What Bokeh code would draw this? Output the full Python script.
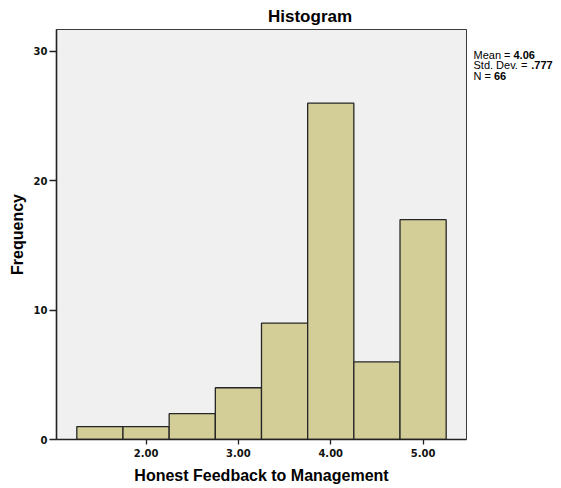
from bokeh.plotting import figure
from bokeh.layouts import row
from bokeh.models import FixedTicker, Range1d, Title
from bokeh.core.properties import value
from bokeh.embed import file_html
from bokeh.resources import INLINE

# ---- data ----
bin_left = [1.25, 1.75, 2.25, 2.75, 3.25, 3.75, 4.25, 4.75]
bin_right = [1.75, 2.25, 2.75, 3.25, 3.75, 4.25, 4.75, 5.25]
counts = [1, 1, 2, 4, 9, 26, 6, 17]
x_ticks = [2, 3, 4, 5]
x_tick_labels = ["2.00", "3.00", "4.00", "5.00"]
y_ticks = [0, 10, 20, 30]
stat_names = ["Mean = ", "Std. Dev. = ", "N = "]
stat_values = ["4.06", ".777", "66"]
title_text = "Histogram"
x_label = "Honest Feedback to Management"
y_label = "Frequency"

# ---- layout ----
X0, X1 = 1.03, 5.47
Y0, Y1 = 0, 31.7
FW, FH = 410, 410
ML, MR, MT, MB = 56, 2, 29, 47
H = MT + FH + MB
W2 = 91

LFONT = "Liberation Sans"
TFONT = "DejaVu Sans"

p = figure(frame_width=FW, frame_height=FH,
           x_range=Range1d(X0, X1), y_range=Range1d(Y0, Y1),
           output_backend="svg", toolbar_location=None,
           min_border_left=ML, min_border_right=MR,
           min_border_top=MT, min_border_bottom=MB)
p.background_fill_color = "#F0F0F0"
p.border_fill_color = "white"
p.outline_line_color = "#3a3a3a"
p.outline_line_width = 1
p.grid.visible = False

title_w = 84
p.title = Title(text=title_text, align="left", offset=309.5 - ML - title_w / 2,
                text_font=LFONT, text_font_style="bold",
                text_font_size="17px", text_color="#000000", standoff=8)

p.quad(left=bin_left, right=bin_right, bottom=0, top=counts,
       fill_color="#D3CE97", line_color="#262626", line_width=1.3)

for ax in (p.xaxis[0], p.yaxis[0]):
    ax.axis_line_color = "#222222"
    ax.axis_line_width = 1.6
    ax.major_tick_line_color = "#222222"
    ax.major_tick_line_width = 1.3
    ax.major_tick_in = 0
    ax.minor_tick_line_color = None
    ax.major_label_text_font = TFONT
    ax.major_label_text_font_style = "bold"
    ax.major_label_text_font_size = "10px"
    ax.major_label_text_color = "#111111"
    ax.axis_label_text_font = LFONT
    ax.axis_label_text_font_style = "bold"
    ax.axis_label_text_font_size = "16px"
    ax.axis_label_text_color = "#000000"

p.xaxis.ticker = FixedTicker(ticks=x_ticks)
p.xaxis.major_label_overrides = {t: s for t, s in zip(x_ticks, x_tick_labels)}
p.xaxis.major_tick_out = 5
p.xaxis.major_label_standoff = 4
p.xaxis.axis_label = x_label
p.xaxis.axis_label_standoff = 7

p.yaxis.ticker = FixedTicker(ticks=y_ticks)
p.yaxis.major_tick_out = 7
p.yaxis.major_label_standoff = 2
p.yaxis.axis_label = y_label
p.yaxis.axis_label_standoff = 5

# ---- stats panel (separate figure to the right, same frame height) ----
p2 = figure(width=W2, height=H, frame_height=FH,
            x_range=Range1d(0, W2), y_range=Range1d(MT + FH, MT),
            output_backend="svg", toolbar_location=None,
            min_border_left=0, min_border_right=0,
            min_border_top=MT, min_border_bottom=MB)
p2.axis.visible = False
p2.grid.visible = False
p2.outline_line_color = None
p2.background_fill_color = "white"
p2.border_fill_color = "white"

rows_y = [54, 64.5, 75]
name_w = [40.0, 57.8, 20.5]
x_start = 473 - (ML + FW + MR)
p2.text(x=[x_start] * 3, y=rows_y, text=stat_names,
        text_font=value(LFONT), text_font_size="11px",
        text_align="left", text_baseline="middle", text_color="#000000")
p2.text(x=[x_start + w for w in name_w], y=rows_y, text=stat_values,
        text_font=value(LFONT), text_font_style="bold", text_font_size="11px",
        text_align="left", text_baseline="middle", text_color="#000000")

layout = row(p, p2)
open("out.html", "w").write(file_html(layout, INLINE))
